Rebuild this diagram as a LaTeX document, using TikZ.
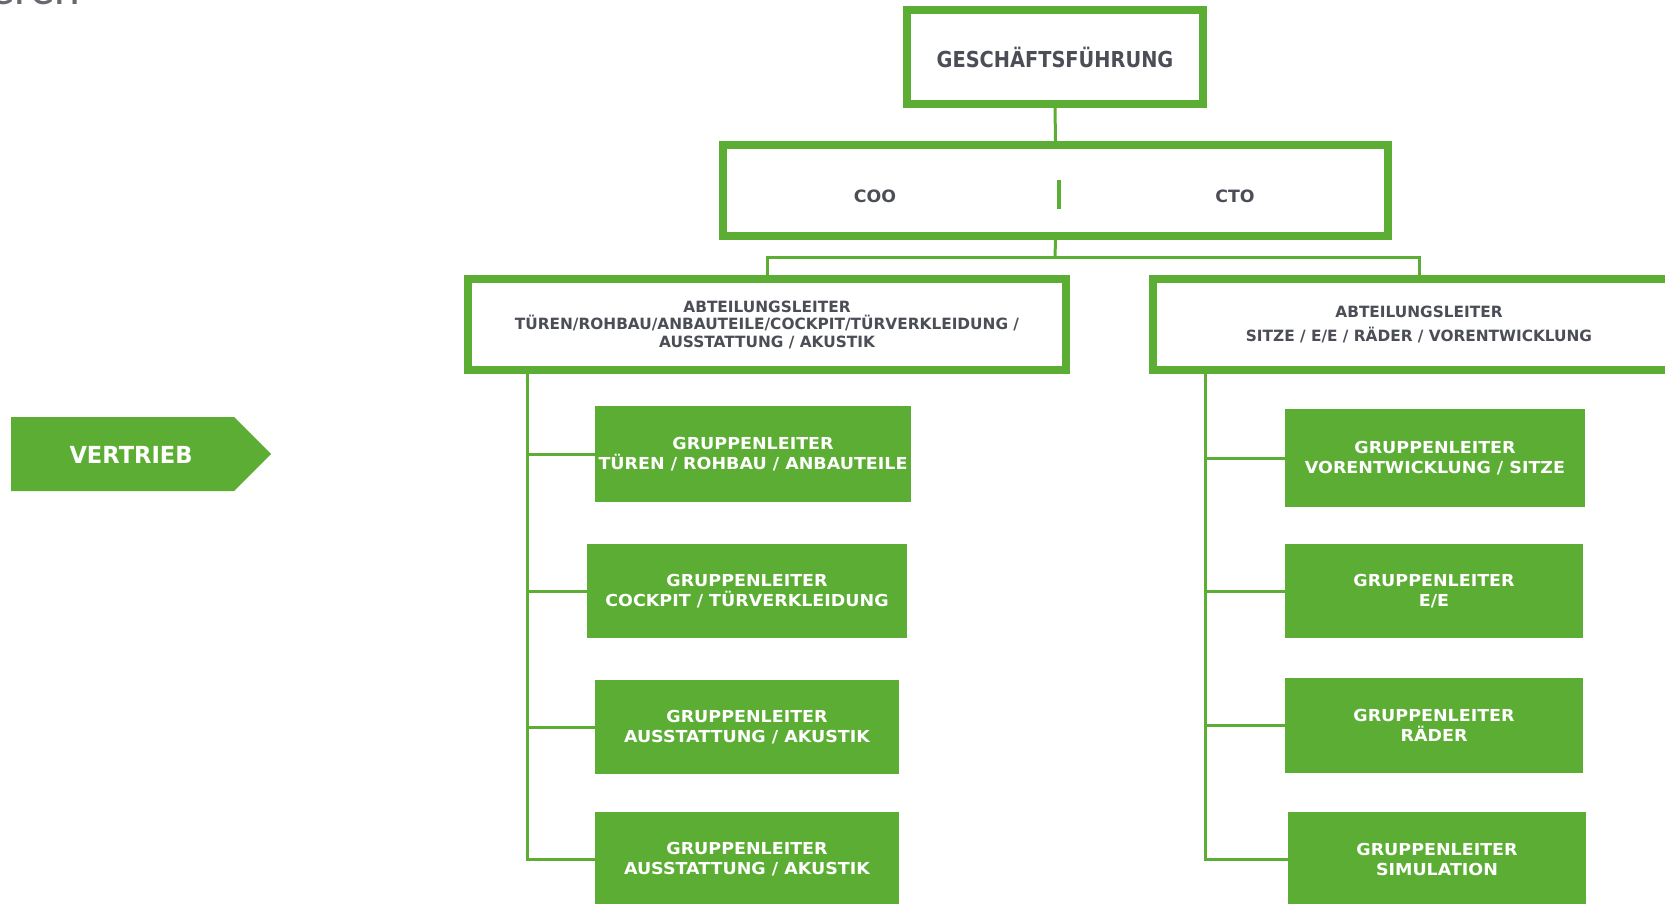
\documentclass[tikz,border=0pt]{standalone}
\usepackage{fontspec}
\setmainfont{DejaVu Sans}[FakeStretch=0.88]
\newfontfamily\grpfont{DejaVu Sans}[FakeStretch=1.06]
\newfontfamily\deptfont{DejaVu Sans}[FakeStretch=0.99]
\newfontfamily\roleft{DejaVu Sans}[FakeStretch=1.02]
\newfontfamily\salesfont{DejaVu Sans}[FakeStretch=0.96]
\newfontfamily\headfont{Lato}
\definecolor{brand}{RGB}{91,174,51}
\definecolor{ink}{RGB}{75,78,86}
\begin{document}
\begin{tikzpicture}[x=1pt,y=-1pt,
  frame/.style={draw=brand, line width=8pt, fill=white, inner sep=0pt, align=center, text=ink},
  gbox/.style={fill=brand, inner sep=0pt, align=center, text=white,
    font=\grpfont\bfseries\fontsize{16.5}{20}\selectfont},
  role/.style={text=ink, font=\roleft\bfseries\fontsize{17}{20}\selectfont, inner sep=0pt},
  link/.style={draw=brand, line width=3pt}]
\useasboundingbox (0,0) rectangle (1665,904);

% partial heading at top left
\node[anchor=base west, text=ink!85, font=\headfont\fontsize{46}{46}\selectfont, inner sep=0pt] (hdr) at (-10,5) {eren};

% top boxes
\node[frame, minimum width=296pt, minimum height=94pt,
  font=\bfseries\fontsize{22}{26}\selectfont] (gf) at (1055,57) {GESCHÄFTSFÜHRUNG};
\node[frame, minimum width=665pt, minimum height=91pt] (cc) at (1055.5,190.5) {};
\node[role] (coo) at (875,196) {COO};
\node[role] (cto) at (1235,196) {CTO};
\draw[brand, line width=4pt] (1059,180) -- (1059,209);

% department heads
\coordinate (split) at (1055,257);
\draw[link] (gf.south) -- (cc.north);
\draw[link] (cc.south) -- (split);

\coordinate (ltrunk) at (527,859);
\coordinate (rtrunk) at (1205,859);

% group boxes left
\node[gbox, minimum width=316pt, minimum height=96pt] (l1) at (753,454) {GRUPPENLEITER\\TÜREN / ROHBAU / ANBAUTEILE};
\node[gbox, minimum width=320pt, minimum height=94pt] (l2) at (747,591) {GRUPPENLEITER\\COCKPIT / TÜRVERKLEIDUNG};
\node[gbox, minimum width=304pt, minimum height=94pt] (l3) at (747,727) {GRUPPENLEITER\\AUSSTATTUNG / AKUSTIK};
\node[gbox, minimum width=304pt, minimum height=94pt] (l4) at (747,859) {GRUPPENLEITER\\AUSSTATTUNG / AKUSTIK};

% group boxes right
\node[gbox, minimum width=300pt, minimum height=98pt] (r1) at (1435,458) {GRUPPENLEITER\\VORENTWICKLUNG / SITZE};
\node[gbox, minimum width=298pt, minimum height=94pt] (r2) at (1434,591) {GRUPPENLEITER\\E/E};
\node[gbox, minimum width=298pt, minimum height=95pt] (r3) at (1434,725) {GRUPPENLEITER\\RÄDER};
\node[gbox, minimum width=298pt, minimum height=94pt] (r4) at (1437,859) {GRUPPENLEITER\\SIMULATION};

\node[frame, minimum width=598pt, minimum height=91pt,
  font=\deptfont\bfseries\fontsize{15.5}{17.5}\selectfont] (lal) at (767,324.5)
  {ABTEILUNGSLEITER\\TÜREN/ROHBAU/ANBAUTEILE/COCKPIT/TÜRVERKLEIDUNG /\\AUSSTATTUNG / AKUSTIK};
\node[frame, minimum width=532pt, minimum height=91pt,
  font=\deptfont\bfseries\fontsize{15.5}{23.5}\selectfont] (ral) at (1419,324.5)
  {ABTEILUNGSLEITER\\SITZE / E/E / RÄDER / VORENTWICKLUNG};

\draw[link] (lal.north) |- (split) -| (ral.north);

% trunks and branches
\draw[link] (lal.south -| ltrunk) -- (ltrunk) -- (l4.west);
\draw[link] (ltrunk |- l1.west) -- (l1.west);
\draw[link] (ltrunk |- l2.west) -- (l2.west);
\draw[link] (ltrunk |- l3.west) -- (l3.west);
\draw[link] (ral.south -| rtrunk) -- (rtrunk) -- (r4.west);
\draw[link] (rtrunk |- r1.west) -- (r1.west);
\draw[link] (rtrunk |- r2.west) -- (r2.west);
\draw[link] (rtrunk |- r3.west) -- (r3.west);

% Vertrieb arrow
\fill[brand] (11,417) -- (234,417) -- (271,454) -- (234,491) -- (11,491) -- cycle;
\node[text=white, font=\salesfont\bfseries\fontsize{23.5}{26}\selectfont, inner sep=0pt] (vertrieb) at (131,455) {VERTRIEB};
\end{tikzpicture}
\end{document}
